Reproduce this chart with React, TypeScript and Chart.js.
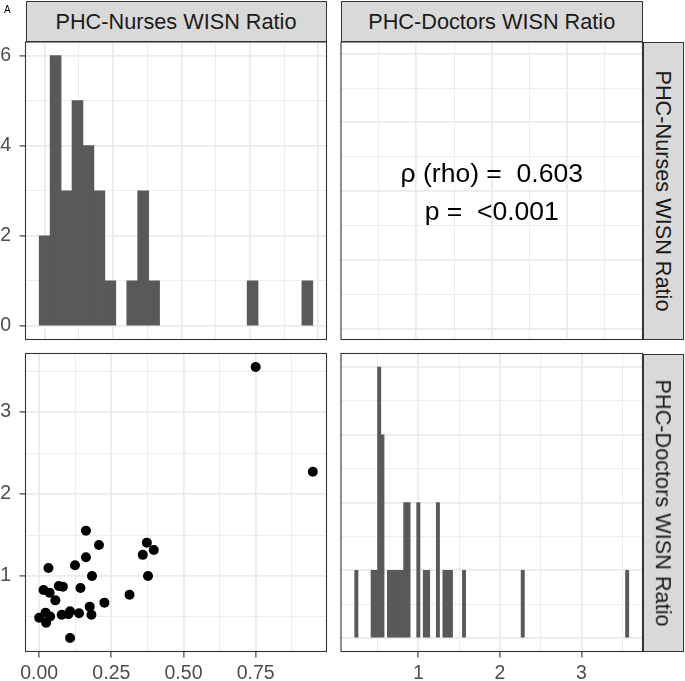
import React, { useEffect, useRef } from 'react';
import { Chart, registerables } from 'chart.js';

Chart.register(...registerables);

const W = 685;
const H = 681;

// ---------------- data ----------------
// histogram of PHC-Nurses WISN ratio (bin width 0.04, bins centred on multiples of 0.04)
const nursesBinCenters = [0, 0.04, 0.08, 0.12, 0.16, 0.2, 0.24, 0.32, 0.36, 0.4, 0.76, 0.96];
const nursesBinCounts = [2, 6, 3, 5, 4, 3, 1, 1, 3, 1, 1, 1];

// histogram of PHC-Doctors WISN ratio (bin width 0.04)
const doctorsBinCenters = [0.24, 0.44, 0.48, 0.52, 0.56, 0.64, 0.68, 0.72, 0.76, 0.8, 0.84, 0.88, 1.0, 1.08, 1.12, 1.24, 1.32, 1.36, 1.4, 1.56, 2.28, 3.56];
const doctorsBinCounts = [1, 1, 1, 4, 3, 1, 1, 1, 1, 1, 2, 2, 2, 1, 1, 2, 1, 1, 1, 1, 1, 1];

// scatter: x = nurses ratio, y = doctors ratio
const nursesRatio = [0.75, 0.948, 0.162, 0.207, 0.162, 0.124, 0.032, 0.183, 0.373, 0.397, 0.359, 0.377, 0.313, 0.143, 0.068, 0.082, 0.015, 0.036, 0.056, 0.226, 0.175, 0.181, 0.138, 0.107, 0.101, 0.078, 0.0, 0.022, 0.038, 0.024, 0.107];
const doctorsRatio = [3.549, 2.272, 1.553, 1.378, 1.228, 1.13, 1.098, 1.0, 1.407, 1.317, 1.258, 1.0, 0.772, 0.854, 0.878, 0.87, 0.829, 0.797, 0.703, 0.675, 0.626, 0.528, 0.545, 0.569, 0.533, 0.528, 0.49, 0.553, 0.505, 0.431, 0.244];

const rhoText = 'ρ (rho) =  0.603';
const pText = 'p =  <0.001';
const stripNurses = 'PHC-Nurses WISN Ratio';
const stripDoctors = 'PHC-Doctors WISN Ratio';
const panelTag = 'A';

// ticks / grid lines
const nursesHistXGrid = [0, 0.125, 0.25, 0.375, 0.5, 0.625, 0.75, 0.875, 1];
const nursesHistXMajor = [0, 0.25, 0.5, 0.75, 1];
const count6Grid = [0, 1, 2, 3, 4, 5, 6];
const count6Major = [0, 2, 4, 6];
const count6Labels = ['0', '2', '4', '6'];
const scatterXGrid = [0, 0.125, 0.25, 0.375, 0.5, 0.625, 0.75, 0.875];
const scatterXMajor = [0, 0.25, 0.5, 0.75];
const scatterXLabels = ['0.00', '0.25', '0.50', '0.75'];
const doctorsGrid = [0.5, 1, 1.5, 2, 2.5, 3, 3.5];
const doctorsMajor = [1, 2, 3];
const doctorsLabels = ['1', '2', '3'];
const count4Grid = [0, 0.5, 1, 1.5, 2, 2.5, 3, 3.5, 4];
const count4Major = [0, 1, 2, 3, 4];
const corXGrid = [1, 2, 3, 4, 5, 6, 7];
const corXMajor = [2, 4, 6];
const corYGrid = [0, 1, 2, 3, 4, 5, 6, 7, 8];
const corYMajor = [0, 2, 4, 6, 8];

// ---------------- style / layout ----------------
const FONT = '"Liberation Sans", Arial, Helvetica, sans-serif';
const GRID = '#ebebeb';
const INK = '#333333';
const BAR = '#595959';

type Box = { l: number; t: number; r: number; b: number };
const P_TL: Box = { l: 25.5, t: 42, r: 326.5, b: 339.5 };
const P_TR: Box = { l: 341, t: 42, r: 642.5, b: 339.5 };
const P_BL: Box = { l: 25.5, t: 353.5, r: 326.5, b: 651.5 };
const P_BR: Box = { l: 341, t: 353.5, r: 642.5, b: 651.5 };

type AxisSpec = {
  min: number;
  max: number;
  grid: number[];
  major: number[];
  labels?: string[];
  size: number;
};

const near = (a: number, b: number) => Math.abs(a - b) < 1e-9;

function makeAxis(spec: AxisSpec, horizontal: boolean) {
  const show = !!spec.labels;
  const isMajor = (v: number) => spec.major.some((m) => near(m, v));
  return {
    type: 'linear',
    position: horizontal ? 'bottom' : 'left',
    min: spec.min,
    max: spec.max,
    bounds: 'data',
    offset: false,
    afterBuildTicks: (axis: any) => {
      axis.ticks = spec.grid.map((v) => ({ value: v }));
    },
    afterFit: (axis: any) => {
      if (horizontal) axis.height = spec.size;
      else axis.width = spec.size;
    },
    grid: {
      offset: false,
      color: GRID,
      lineWidth: (c: any) => (c.tick && isMajor(c.tick.value) ? 1.8 : 0.9),
      drawTicks: show,
      tickLength: 6,
      tickWidth: 1.1,
      tickColor: (c: any) => (c.tick && isMajor(c.tick.value) ? INK : 'rgba(0,0,0,0)'),
    },
    border: { display: false },
    ticks: {
      display: show,
      autoSkip: false,
      maxRotation: 0,
      minRotation: 0,
      padding: horizontal ? 4 : 8.5,
      color: '#4d4d4d',
      font: { family: FONT, size: 19.5 },
      callback: (v: number) => {
        const idx = spec.major.findIndex((m) => near(m, v));
        return idx >= 0 && spec.labels ? spec.labels[idx] : '';
      },
    },
  };
}

const borderPlugin = {
  id: 'panelBorder',
  afterDraw(chart: any) {
    const { ctx, chartArea: a } = chart;
    ctx.save();
    ctx.strokeStyle = INK;
    ctx.lineWidth = 1.1;
    ctx.strokeRect(a.left, a.top, a.right - a.left, a.bottom - a.top);
    ctx.restore();
  },
};

function baseOptions(p: Box, yW: number, xH: number, x: any, y: any) {
  return {
    animation: false,
    responsive: false,
    events: [],
    layout: {
      autoPadding: false,
      padding: { left: p.l - yW, top: p.t, right: W - p.r, bottom: H - p.b - xH },
    },
    plugins: { legend: { display: false }, tooltip: { enabled: false } },
    scales: { x, y },
  };
}

function configTL() {
  return {
    type: 'bar',
    data: {
      datasets: [
        {
          data: nursesBinCenters.map((x, i) => ({ x, y: nursesBinCounts[i] })),
          backgroundColor: BAR,
          borderWidth: 0,
          barPercentage: 1,
          categoryPercentage: 1,
        },
      ],
    },
    options: baseOptions(
      P_TL,
      P_TL.l,
      0,
      makeAxis({ min: -0.07, max: 1.03, grid: nursesHistXGrid, major: nursesHistXMajor, size: 0 }, true),
      makeAxis({ min: -0.3, max: 6.3, grid: count6Grid, major: count6Major, labels: count6Labels, size: P_TL.l }, false)
    ),
    plugins: [borderPlugin],
  };
}

function configTR() {
  return {
    type: 'scatter',
    data: { datasets: [] },
    options: baseOptions(
      P_TR,
      0,
      0,
      makeAxis({ min: 0, max: 8, grid: corXGrid, major: corXMajor, size: 0 }, true),
      makeAxis({ min: -0.32, max: 8.34, grid: corYGrid, major: corYMajor, size: 0 }, false)
    ),
    plugins: [borderPlugin],
  };
}

function configBL() {
  return {
    type: 'scatter',
    data: {
      datasets: [
        {
          data: nursesRatio.map((x, i) => ({ x, y: doctorsRatio[i] })),
          pointRadius: 5,
          pointBackgroundColor: '#000000',
          pointBorderWidth: 0,
          showLine: false,
        },
      ],
    },
    options: baseOptions(
      P_BL,
      P_BL.l,
      H - P_BL.b,
      makeAxis({ min: -0.0474, max: 0.9954, grid: scatterXGrid, major: scatterXMajor, labels: scatterXLabels, size: H - P_BL.b }, true),
      makeAxis({ min: 0.079, max: 3.714, grid: doctorsGrid, major: doctorsMajor, labels: doctorsLabels, size: P_BL.l }, false)
    ),
    plugins: [borderPlugin],
  };
}

function configBR() {
  return {
    type: 'bar',
    data: {
      datasets: [
        {
          data: doctorsBinCenters.map((x, i) => ({ x, y: doctorsBinCounts[i] })),
          backgroundColor: BAR,
          borderWidth: 0,
          barPercentage: 1,
          categoryPercentage: 1,
        },
      ],
    },
    options: baseOptions(
      P_BR,
      0,
      H - P_BR.b,
      makeAxis({ min: 0.052, max: 3.748, grid: doctorsGrid, major: doctorsMajor, labels: doctorsLabels, size: H - P_BR.b }, true),
      makeAxis({ min: -0.2, max: 4.2, grid: count4Grid, major: count4Major, size: 0 }, false)
    ),
    plugins: [borderPlugin],
  };
}

function Panel({ make }: { make: () => any }) {
  const ref = useRef<HTMLCanvasElement | null>(null);
  useEffect(() => {
    if (!ref.current) return;
    const chart = new Chart(ref.current, make());
    return () => chart.destroy();
  }, [make]);
  return (
    <canvas
      ref={ref}
      width={W}
      height={H}
      style={{ position: 'absolute', left: 0, top: 0, width: W, height: H, pointerEvents: 'none' }}
    />
  );
}

const STRIP_FONT = 21.7;

function TopStrip({ p, text }: { p: Box; text: string }) {
  return (
    <div
      style={{
        position: 'absolute',
        left: p.l,
        top: 0.5,
        width: p.r - p.l,
        height: p.t - 0.5,
        boxSizing: 'border-box',
        border: `1px solid ${INK}`,
        background: '#d9d9d9',
        display: 'flex',
        alignItems: 'center',
        justifyContent: 'center',
        fontFamily: FONT,
        fontSize: STRIP_FONT,
        lineHeight: 1,
        color: '#1a1a1a',
        whiteSpace: 'nowrap',
        paddingTop: 1,
      }}
    >
      {text}
    </div>
  );
}

function RightStrip({ p, text }: { p: Box; text: string }) {
  return (
    <div
      style={{
        position: 'absolute',
        left: p.r,
        top: p.t,
        width: 684 - p.r,
        height: p.b - p.t,
        boxSizing: 'border-box',
        border: `1px solid ${INK}`,
        background: '#d9d9d9',
        fontFamily: FONT,
        fontSize: STRIP_FONT,
        lineHeight: 1,
        color: '#1a1a1a',
      }}
    >
      <span
        style={{
          position: 'absolute',
          left: '50%',
          top: '50%',
          whiteSpace: 'nowrap',
          transform: 'translate(-50%, -50%) rotate(90deg)',
        }}
      >
        {text}
      </span>
    </div>
  );
}

const COR_FONT = 26.5;

export default function App() {
  return (
    <div style={{ position: 'absolute', left: 0, top: 0, width: W, height: H, background: '#ffffff', overflow: 'hidden' }}>
      <Panel make={configTL} />
      <Panel make={configTR} />
      <Panel make={configBL} />
      <Panel make={configBR} />
      <TopStrip p={P_TL} text={stripNurses} />
      <TopStrip p={P_TR} text={stripDoctors} />
      <RightStrip p={P_TR} text={stripNurses} />
      <RightStrip p={P_BR} text={stripDoctors} />
      <div
        style={{
          position: 'absolute',
          left: P_TR.l,
          width: P_TR.r - P_TR.l,
          top: 173.3 - COR_FONT / 2,
          textAlign: 'center',
          fontFamily: FONT,
          fontSize: COR_FONT,
          lineHeight: 1,
          color: '#000000',
          whiteSpace: 'pre',
        }}
      >
        {rhoText}
      </div>
      <div
        style={{
          position: 'absolute',
          left: P_TR.l,
          width: P_TR.r - P_TR.l,
          top: 210.8 - COR_FONT / 2,
          textAlign: 'center',
          fontFamily: FONT,
          fontSize: COR_FONT,
          lineHeight: 1,
          color: '#000000',
          whiteSpace: 'pre',
        }}
      >
        {pText}
      </div>
      <div
        style={{
          position: 'absolute',
          left: 4,
          top: 5.4,
          fontFamily: FONT,
          fontSize: 10,
          lineHeight: 1,
          color: '#000000',
        }}
      >
        {panelTag}
      </div>
    </div>
  );
}
